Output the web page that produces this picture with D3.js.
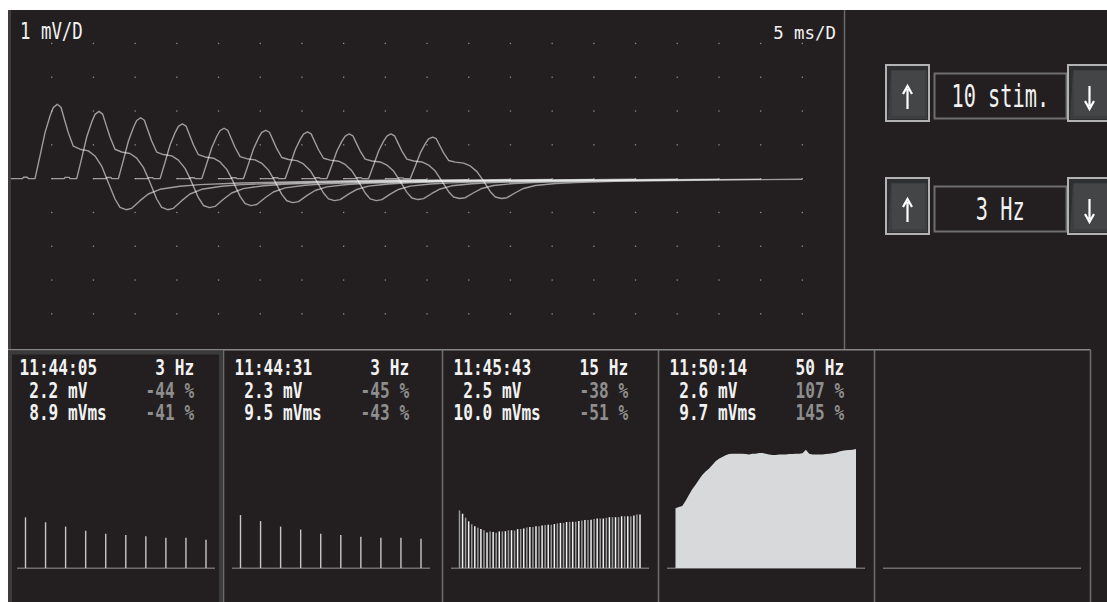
<!DOCTYPE html>
<html>
<head>
<meta charset="utf-8">
<script src="https://cdn.jsdelivr.net/npm/d3@7"></script>
<style>
  html, body { margin: 0; padding: 0; background: #ffffff; }
  svg { display: block; }
</style>
</head>
<body>
<svg id="chart" width="1107" height="602"></svg>
<script>
// ---------------- data ----------------
const gainLabel = "1 mV/D";
const sweepLabel = "5 ms/D";
const stimCountLabel = "10 stim.";
const stimRateLabel = "3 Hz";

// One evoked response, time from sweep start (ms) and voltage (mV), for a 2.2 mV response
const templateTime = [0, 1.5, 1.6, 2.1, 2.2, 3.0, 3.6, 4.2, 4.8, 5.19, 5.67, 6.11, 6.53, 6.99, 7.59, 8.39, 9.39,
  10.19, 10.99, 11.59, 12.59, 13.19, 13.91, 14.59, 15.59, 16.58, 17.98, 20.38, 22.78, 27.58, 34.77, 44.36, 50];
const templateVolt = [0, 0, 0.04, 0.04, 0, 0, 0.67, 1.36, 1.85, 2.10, 2.20, 2.11, 1.75, 1.36, 0.96, 0.87, 0.82,
  0.67, 0.37, 0, -0.61, -0.86, -0.93, -0.89, -0.66, -0.46, -0.32, -0.23, -0.18, -0.13, -0.09, -0.05, -0.03];
const templatePeak = 2.20;
const templateTrough = 0.93;

// Display offset of each of the 10 sweeps (ms) and depth of its negative phase (mV)
const sweepOffsets = [0, 5, 10, 15, 20, 25, 30, 35, 40, 45];
const sweepTroughs = [0.92, 0.92, 0.86, 0.80, 0.71, 0.65, 0.65, 0.62, 0.59, 0.59];

// Stored recordings
const recTimes = ["11:44:05", "11:44:31", "11:45:43", "11:50:14"];
const recRates = ["3 Hz", "3 Hz", "15 Hz", "50 Hz"];
const recAmp = [2.2, 2.3, 2.5, 2.6];          // mV
const recArea = [8.9, 9.5, 10.0, 9.7];        // mVms
const recAmpChange = [-44, -45, -38, 107];    // %
const recAreaChange = [-41, -43, -51, 145];   // %

// Response amplitudes (mV) of each train
const train1 = [2.20, 1.99, 1.80, 1.62, 1.49, 1.43, 1.38, 1.32, 1.32, 1.23];
const train2 = [2.30, 2.04, 1.80, 1.67, 1.49, 1.43, 1.36, 1.32, 1.32, 1.27];
const train3 = [2.50, 2.36, 2.19, 2.03, 1.90, 1.82, 1.75, 1.70, 1.64, 1.54,
  1.59, 1.57, 1.53, 1.59, 1.59, 1.60, 1.64, 1.64, 1.63, 1.69,
  1.70, 1.72, 1.76, 1.78, 1.78, 1.82, 1.82, 1.85, 1.87, 1.88,
  1.88, 1.91, 1.94, 1.96, 1.96, 2.00, 2.01, 2.01, 2.01, 2.04,
  2.07, 2.09, 2.09, 2.10, 2.13, 2.15, 2.15, 2.15, 2.18, 2.21,
  2.21, 2.21, 2.21, 2.25, 2.25, 2.25, 2.25, 2.28, 2.33, 2.33];
const train4 = [2.60, 2.65, 2.70, 2.91, 3.17, 3.42, 3.62, 3.84, 4.04, 4.20,
  4.32, 4.48, 4.64, 4.75, 4.83, 4.90, 4.96, 4.97, 4.97, 4.97,
  4.97, 4.96, 4.94, 4.97, 4.97, 5.00, 5.00, 4.97, 4.94, 4.91,
  4.91, 4.93, 4.94, 4.93, 4.96, 4.96, 4.97, 4.97, 4.99, 5.14,
  4.97, 4.93, 4.93, 4.94, 4.94, 4.96, 4.97, 4.99, 5.01, 5.06,
  5.10, 5.12, 5.13, 5.14, 5.17];

// ---------------- drawing ----------------
const W = 1107, H = 602;
const BG = "#231f20";
const svg = d3.select("#chart");
const MONO = "'DejaVu Sans Mono', 'Liberation Mono', monospace";

function monoText(parent, str, x, y, o) {
  return parent.append("text")
    .attr("transform", `translate(${x},${y}) scale(1,${o.sy || 1})`)
    .attr("text-anchor", o.anchor || "start")
    .attr("font-family", MONO)
    .attr("font-size", o.size)
    .attr("font-weight", o.weight || "normal")
    .attr("fill", o.fill || "#f2f2f2")
    .style("white-space", "pre")
    .text(str);
}

svg.append("rect").attr("x", 8).attr("y", 10).attr("width", W - 8).attr("height", H - 10).attr("fill", BG);

// ---- oscilloscope panel ----
const x = d3.scaleLinear().domain([0, 100]).range([10, 844]);
const y = d3.scaleLinear().domain([-5, 5]).range([347.6, 9.6]);

const scope = svg.append("g");
const gridT = d3.range(5, 100, 5);
const gridV = d3.range(-4, 5, 1);
gridT.forEach(t => gridV.forEach(v => {
  scope.append("rect").attr("x", x(t) - 0.6).attr("y", y(v) - 0.6)
    .attr("width", 1.3).attr("height", 1.3).attr("fill", "#8d8d8d");
}));

const line = d3.line().x(d => x(d[0])).y(d => y(d[1]));
sweepOffsets.forEach((off, k) => {
  const pos = train1[k] / templatePeak;
  const neg = sweepTroughs[k] / templateTrough;
  const pts = templateTime.map((t, i) => {
    const v = templateVolt[i];
    return [off + t, v >= 0 ? v * pos : v * neg];
  });
  scope.append("path").attr("d", line(pts))
    .attr("fill", "none").attr("stroke", "#ffffff").attr("stroke-opacity", 0.56)
    .attr("stroke-width", 1.4).attr("stroke-linejoin", "round");
});

monoText(scope, gainLabel, 20, 39.3, { size: 17.4, sy: 1.3 });
monoText(scope, sweepLabel, 836, 39.3, { size: 17.4, anchor: "end" });

// frame lines
svg.append("line").attr("x1", 9.5).attr("x2", 9.5).attr("y1", 10).attr("y2", 349)
  .attr("stroke", "#3d3d3d").attr("stroke-width", 3);
svg.append("line").attr("x1", 844.5).attr("x2", 844.5).attr("y1", 10).attr("y2", 349.5)
  .attr("stroke", "#6a6a6a").attr("stroke-width", 1.5);
svg.append("line").attr("x1", 8).attr("x2", 1090.5).attr("y1", 349.8).attr("y2", 349.8)
  .attr("stroke", "#868686").attr("stroke-width", 1.6);

// ---- stimulus controls ----
function button(bx, by, dir) {
  const g = svg.append("g");
  g.append("rect").attr("x", bx).attr("y", by).attr("width", 43).attr("height", 56)
    .attr("fill", "#2e2f30").attr("stroke", "#b3b3b3").attr("stroke-width", 2);
  g.append("path")
    .attr("d", `M${bx + 5},${by + 5} H${bx + 41} V${by + 54} H${bx + 2} Z`)
    .attr("fill", "#3d3e3f");
  g.append("rect").attr("x", bx + 6).attr("y", by + 6).attr("width", 33).attr("height", 45)
    .attr("fill", "#444546");
  const cx = bx + 21.5, top = by + 21, bot = by + 44;
  const d = dir === "up"
    ? `M${cx},${bot} V${top + 3} M${cx - 4.5},${top + 8} L${cx},${top} L${cx + 4.5},${top + 8}`
    : `M${cx},${top} V${bot - 3} M${cx - 4.5},${bot - 8} L${cx},${bot} L${cx + 4.5},${bot - 8}`;
  g.append("path").attr("d", d).attr("fill", "none").attr("stroke", "#ffffff")
    .attr("stroke-width", 2.2).attr("stroke-linejoin", "miter");
}
function control(by, label) {
  button(886, by, "up");
  svg.append("rect").attr("x", 934.5).attr("y", by + 8.5).attr("width", 132).attr("height", 45)
    .attr("fill", BG).attr("stroke", "#6e6e6e").attr("stroke-width", 2);
  monoText(svg, label, 1000.3, by + 42, { size: 20.3, sy: 1.55, anchor: "middle" });
  button(1068, by, "down");
}
control(65, stimCountLabel);
control(178, stimRateLabel);

// ---- stored recording panels ----
const panelLefts = [8, 223, 442, 658, 874];
const trains = [train1, train2, train3, train4];
const yb = d3.scaleLinear().domain([0, 6]).range([568, 430]);
const CELL = 9.7;
const FS = CELL / 0.602;

panelLefts.forEach((L, p) => {
  const g = svg.append("g");
  if (p > 0) {
    g.append("line").attr("x1", L + 0.5).attr("x2", L + 0.5).attr("y1", 350).attr("y2", H)
      .attr("stroke", "#6c6c6c").attr("stroke-width", 1.6);
  }
  g.append("line").attr("x1", L + 9).attr("x2", L + 207).attr("y1", 568.3).attr("y2", 568.3)
    .attr("stroke", "#6e6e6e").attr("stroke-width", 1.6);
  if (p >= trains.length) return;

  // readouts
  const x0 = L + 11.5, xr = x0 + 18 * CELL;
  const rows = [375, 397.8, 420];
  const opt = { size: FS, sy: 1.28, weight: "bold" };
  monoText(g, recTimes[p], x0, rows[0], opt);
  monoText(g, recRates[p], xr, rows[0], { ...opt, anchor: "end" });
  monoText(g, recAmp[p].toFixed(1), x0 + 4 * CELL, rows[1], { ...opt, anchor: "end" });
  monoText(g, "mV", x0 + 5 * CELL, rows[1], opt);
  monoText(g, recArea[p].toFixed(1), x0 + 4 * CELL, rows[2], { ...opt, anchor: "end" });
  monoText(g, "mVms", x0 + 5 * CELL, rows[2], opt);
  monoText(g, `${recAmpChange[p]} %`, xr, rows[1], { ...opt, anchor: "end", fill: "#8e8e8e" });
  monoText(g, `${recAreaChange[p]} %`, xr, rows[2], { ...opt, anchor: "end", fill: "#8e8e8e" });

  // response train
  const data = trains[p];
  const xs = d3.scaleLinear().domain([0, data.length - 1]).range([L + 17.5, L + 198]);
  if (p === 3) {
    const area = d3.area().x((d, i) => xs(i)).y0(yb(0)).y1(d => yb(d));
    g.append("path").attr("d", area(data)).attr("fill", "#d8d9db");
  } else {
    g.selectAll("line.bar").data(data).join("line").attr("class", "bar")
      .attr("x1", (d, i) => xs(i)).attr("x2", (d, i) => xs(i))
      .attr("y1", yb(0)).attr("y2", d => yb(d))
      .attr("stroke", (d, i) => p === 2 ? (i % 2 ? "#f0f0f0" : "#9a9a9a") : "#c6c6c6")
      .attr("stroke-width", p === 2 ? 1.5 : 1.4);
  }
});

// highlighted first panel
svg.append("rect").attr("x", 10).attr("y", 352.5).attr("width", 211).attr("height", 255)
  .attr("fill", "none").attr("stroke", "#3b3b3b").attr("stroke-width", 4);
svg.append("line").attr("x1", 1090.5).attr("x2", 1090.5).attr("y1", 350).attr("y2", H)
  .attr("stroke", "#6c6c6c").attr("stroke-width", 1.6);
</script>
</body>
</html>
